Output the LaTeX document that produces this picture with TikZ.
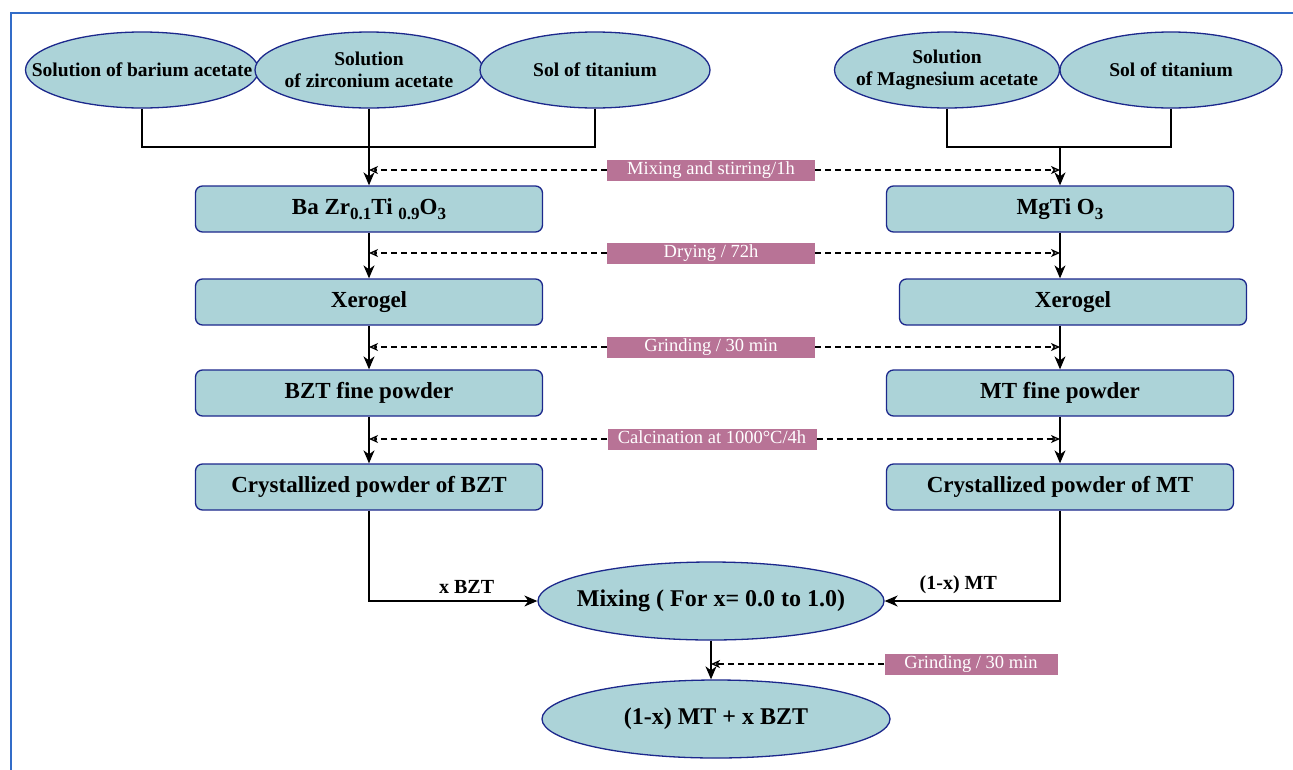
\documentclass[tikz,border=0pt]{standalone}
\usepackage{fontspec}
\setmainfont{Liberation Serif}
\usetikzlibrary{shapes.geometric,arrows.meta}
\definecolor{tealfill}{RGB}{172,211,216}
\definecolor{navyline}{RGB}{28,40,140}
\definecolor{pinklab}{RGB}{184,115,150}
\definecolor{frameblue}{RGB}{50,108,200}
\newcommand\mysub[1]{\raisebox{-0.45ex}{\fontsize{17}{17}\selectfont #1}}
\tikzset{
  ell/.style={ellipse, draw=navyline, fill=tealfill, line width=1.3pt, inner sep=0pt,
    minimum height=76pt},
  elltext/.style={align=center, inner sep=0pt, font=\bfseries\fontsize{19.5}{22.5}\selectfont},
  bigtext/.style={align=center, inner sep=0pt, font=\bfseries\fontsize{24}{26}\selectfont},
  pbox/.style={rectangle, rounded corners=7pt, draw=navyline, fill=tealfill, line width=1.3pt,
    minimum width=347pt, minimum height=46pt, inner sep=0pt, font=\bfseries\fontsize{23}{25}\selectfont},
  plab/.style={rectangle, fill=pinklab, text=white, minimum width=208pt, minimum height=21pt,
    inner sep=0pt, text height=12.5pt, text depth=3.5pt, font=\fontsize{18.5}{19}\selectfont},
  arr/.style={draw=black, line width=1.4pt, -{Stealth[length=13pt,width=11pt,inset=4pt]}},
  darr/.style={draw=black, line width=1.3pt, dash pattern=on 6pt off 4pt, -{Stealth[open,length=9pt,width=8pt,inset=2.5pt]}},
  lnk/.style={draw=black, line width=1.4pt},
  elab/.style={font=\bfseries\fontsize{20}{22}\selectfont, inner sep=2pt}
}
\begin{document}
\begin{tikzpicture}[x=1pt,y=-1pt]
\useasboundingbox (0,0) rectangle (1293,769);
\fill[white] (0,0) rectangle (1293,769);
\draw[frameblue, line width=2.5pt] (11,770) -- (11,13) -- (1294,13);

% top ellipses
\node[ell, minimum width=233pt] (E1) at (142,70) {};
\node[ell, minimum width=228pt] (E2) at (369,70) {};
\node[ell, minimum width=230pt] (E3) at (595,70) {};
\node[ell, minimum width=225pt] (E4) at (947,70) {};
\node[ell, minimum width=222pt] (E5) at (1171,70) {};
\node[elltext] (T1) at (E1) {Solution of barium acetate};
\node[elltext] (T2) at (E2) {Solution\\of zirconium acetate};
\node[elltext] (T3) at (E3) {Sol of titanium};
\node[elltext] (T4) at (E4) {Solution\\of Magnesium acetate};
\node[elltext] (T5) at (E5) {Sol of titanium};

% left column
\node[pbox] (B1) at (369,209) {Ba Zr\mysub{0.1}Ti \mysub{0.9}O\mysub{3}};
\node[pbox] (B2) at (369,302) {Xerogel};
\node[pbox] (B3) at (369,393) {BZT fine powder};
\node[pbox] (B4) at (369,487) {Crystallized powder of BZT};

% right column
\node[pbox] (R1) at (1060,209) {MgTi O\mysub{3}};
\node[pbox] (R2) at (1073,302) {Xerogel};
\node[pbox] (R3) at (1060,393) {MT fine powder};
\node[pbox] (R4) at (1060,487) {Crystallized powder of MT};

% process labels
\node[plab] (P1) at (711,170) {Mixing and stirring/1h};
\node[plab] (P2) at (711,253) {Drying / 72h};
\node[plab] (P3) at (711,347) {Grinding / 30 min};
\node[plab, minimum width=209pt] (P4) at (712,439) {Calcination at 1000°C/4h};
\node[plab, minimum width=173pt] (P5) at (971,664) {Grinding / 30 min};

% bottom ellipses
\node[ell, minimum width=346pt, minimum height=78pt] (MX) at (711,601) {};
\node[ell, minimum width=348pt, minimum height=78pt] (FN) at (716,719) {};
\node[bigtext] (TM) at (MX) {Mixing ( For x= 0.0 to 1.0)};
\node[bigtext] (TF) at (FN) {(1-x) MT + x BZT};

% junctions
\coordinate (J1) at (369,147);
\coordinate (J2) at (1060,147);

% top connectors
\draw[lnk] (E1.south) |- (J1);
\draw[lnk] (E3.south) |- (J1);
\draw[arr] (E2.south) -- (B1.north);
\draw[lnk] (E4.south) |- (J2);
\draw[lnk] (E5.south) |- (J2);
\draw[arr] (J2) -- (R1.north);

% column arrows
\draw[arr] (B1.south) -- (B2.north);
\draw[arr] (B2.south) -- (B3.north);
\draw[arr] (B3.south) -- (B4.north);
\draw[arr] (R1.south) -- (R1.south |- R2.north);
\draw[arr] (R3.north |- R2.south) -- (R3.north);
\draw[arr] (R3.south) -- (R4.north);

% dashed arrows
\draw[darr] (P1.west) -- (P1.west -| B1.north);
\draw[darr] (P1.east) -- (P1.east -| R1.north);
\draw[darr] (P2.west) -- (P2.west -| B1.south);
\draw[darr] (P2.east) -- (P2.east -| R1.south);
\draw[darr] (P3.west) -- (P3.west -| B2.south);
\draw[darr] (P3.east) -- (P3.east -| R3.north);
\draw[darr] (P4.west) -- (P4.west -| B3.south);
\draw[darr] (P4.east) -- (P4.east -| R3.south);

% to mixing
\draw[arr] (B4.south) |- (MX.west) node[elab, pos=0.79, above=5pt] {x BZT};
\draw[arr] (R4.south) |- (MX.east) node[elab, pos=0.79, above=5pt] {(1-x) MT};

% to final
\draw[arr] (MX.south) -- (MX.south |- FN.north);
\draw[darr] (P5.west) -- (P5.west -| MX.south);
\end{tikzpicture}
\end{document}
